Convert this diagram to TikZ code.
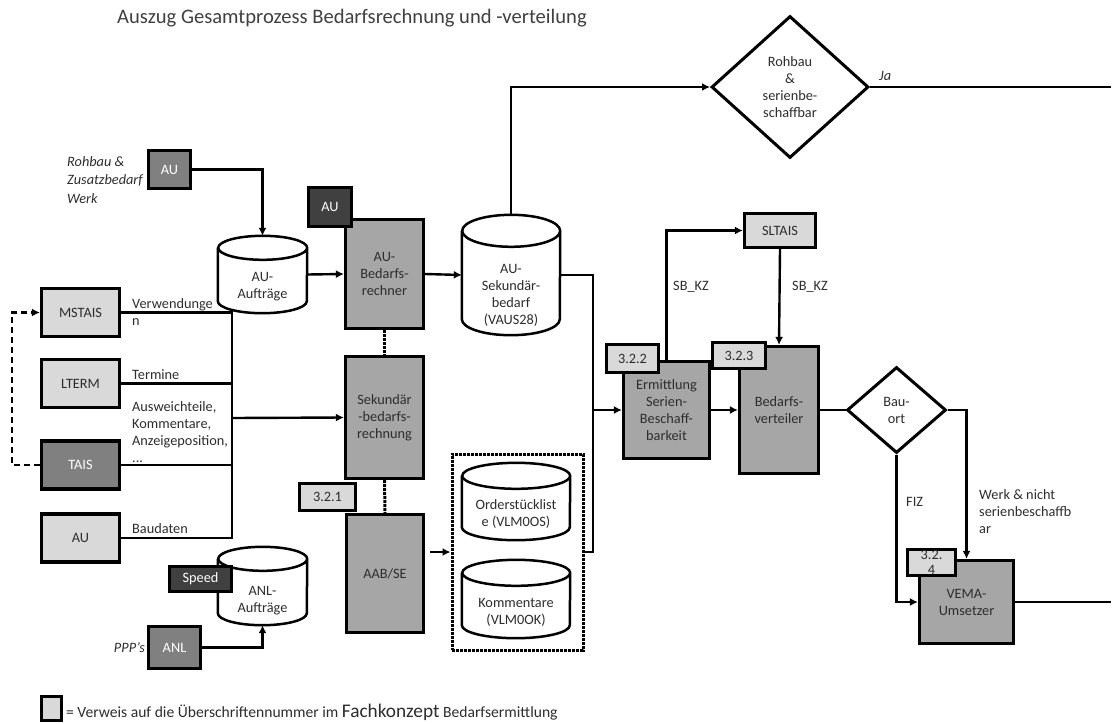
\documentclass[tikz,border=0pt]{standalone}
\usepackage{fontspec}
\setmainfont{Carlito}
\usetikzlibrary{shapes.geometric,arrows.meta,backgrounds}
\definecolor{lightgr}{RGB}{217,217,217}
\definecolor{procgr}{RGB}{166,166,166}
\definecolor{midgr}{RGB}{128,128,128}
\definecolor{darkgr}{RGB}{64,64,64}
\definecolor{txtgr}{RGB}{45,45,45}
\tikzset{
  box/.style={draw=black,line width=3.2pt,inner sep=1pt,align=center,text=txtgr},
  refbox/.style={box,fill=lightgr},
  procbox/.style={box,fill=procgr},
  srcbox/.style={box,fill=midgr,text=white},
  darkbox/.style={box,fill=darkgr,text=white},
  store/.style={rectangle,inner sep=0pt,align=center,text=txtgr},
  drumline/.style={draw=black,line width=2.5pt,fill=white},
  decide/.style={diamond,draw=black,line width=3pt,fill=white,
    align=center,inner sep=0pt,text=txtgr},
  flow/.style={line width=2.4pt},
  arr/.style={flow,-{Latex[length=8pt,width=8pt]}},
  lbl/.style={inner sep=0pt,align=left,text=txtgr}
}
%% data store outline: node, half width, cap radius
\newcommand\drum[3]{%
  \draw[drumline] ([yshift=-#3]#1.north west) -- ([yshift=#3]#1.south west)
  arc[start angle=180,end angle=360,x radius=#2,y radius=#3]
  -- ([yshift=-#3]#1.north east)
  arc[start angle=0,end angle=360,x radius=#2,y radius=#3];
}
\begin{document}
\begin{tikzpicture}[font=\fontsize{14.3}{17}\selectfont]
  \useasboundingbox (0pt,0pt) rectangle (1115pt,-723pt);

  %% title
  \node[lbl,anchor=west,text=darkgr,font=\fontsize{20.6}{24}\selectfont] (title)
  at (117pt,-18pt) {Auszug Gesamtprozess Bedarfsrechnung und -verteilung};

  %% sources left
  \node[srcbox,minimum width=42pt,minimum height=38pt] (auin)
  at (169.5pt,-169.5pt) {AU};
  \node[refbox,minimum width=78pt,minimum height=48pt] (mstais)
  at (80.5pt,-312.5pt) {MSTAIS};
  \node[refbox,minimum width=78pt,minimum height=48pt] (lterm)
  at (80.5pt,-383.5pt) {LTERM};
  \node[srcbox,minimum width=78pt,minimum height=48pt] (tais)
  at (80.5pt,-465pt) {TAIS};
  \node[refbox,minimum width=78pt,minimum height=48pt] (aubau)
  at (80.5pt,-538pt) {AU};
  \node[srcbox,minimum width=52pt,minimum height=42pt] (anl)
  at (174.5pt,-647.5pt) {ANL};

  %% data stores
  \node[store,minimum width=89pt,minimum height=77pt] (auauf)
  at (262.5pt,-274.5pt) {\\[16pt]AU-\\Aufträge};
  \node[store,minimum width=89pt,minimum height=78pt] (anlauf)
  at (262.5pt,-586pt) {\\[22pt]ANL-\\Aufträge};
  \node[store,minimum width=98pt,minimum height=120pt] (ausek)
  at (511pt,-275pt) {\\[32pt]AU-\\Sekundär-\\bedarf\\(VAUS28)};
  \node[store,minimum width=108pt,minimum height=77pt] (ordsl)
  at (516pt,-501.5pt) {\\[17pt]Orderstücklist\\e (VLM0OS)};
  \node[store,minimum width=108pt,minimum height=78pt] (komm)
  at (516pt,-599pt) {\\[19pt]Kommentare\\(VLM0OK)};
  \begin{scope}[on background layer]
    \drum{auauf}{44.5pt}{12pt}
    \drum{anlauf}{44.5pt}{12pt}
    \drum{ausek}{49pt}{16pt}
    \drum{ordsl}{54pt}{13pt}
    \drum{komm}{54pt}{13pt}
  \end{scope}
  \node[draw=black,line width=3pt,densely dotted,minimum width=131pt,
  minimum height=196pt] (frame) at (517.5pt,-552pt) {};

  \node[darkbox,minimum width=62pt,minimum height=25pt] (speed)
  at (200.5pt,-579pt) {Speed};

  %% processes
  \node[procbox,minimum width=78pt,minimum height=109pt] (aubr)
  at (384.5pt,-274pt) {AU-\\Bedarfs-\\rechner};
  \node[darkbox,minimum width=43pt,minimum height=39pt] (audark)
  at (330pt,-207pt) {AU};
  \node[procbox,minimum width=78pt,minimum height=122pt] (sek)
  at (384.5pt,-417.5pt) {Sekundär\\-bedarfs-\\rechnung};
  \node[procbox,minimum width=77pt,minimum height=118pt] (aab)
  at (385pt,-573.5pt) {AAB/SE};
  \node[refbox,minimum width=56pt,minimum height=27pt] (ref321)
  at (327.5pt,-497pt) {3.2.1};

  \node[procbox,minimum width=86pt,minimum height=97pt] (erm)
  at (666.5pt,-410pt) {Ermittlung\\Serien-\\Beschaff-\\barkeit};
  \node[refbox,minimum width=52pt,minimum height=28pt] (ref322)
  at (632.5pt,-358.5pt) {3.2.2};
  \node[procbox,minimum width=79pt,minimum height=127pt] (bv)
  at (779pt,-410pt) {Bedarfs-\\verteiler};
  \node[refbox,minimum width=53pt,minimum height=26pt] (ref323)
  at (739pt,-355.5pt) {3.2.3};
  \node[refbox,minimum width=71pt,minimum height=34pt] (sltais)
  at (780pt,-230.5pt) {SLTAIS};
  \node[procbox,minimum width=94pt,minimum height=83pt] (vema)
  at (966.5pt,-602pt) {VEMA-\\Umsetzer};
  \node[refbox,minimum width=48pt,minimum height=26pt,
  font=\fontsize{14.3}{15}\selectfont] (ref324)
  at (931.5pt,-562.5pt) {3.2.\\4};

  %% decisions
  \node[decide,minimum width=157pt,minimum height=142pt] (rohbau)
  at (790pt,-87pt) {Rohbau\\\&\\serienbe-\\schaffbar};
  \node[decide,minimum width=99pt,minimum height=86pt] (bauort)
  at (896.5pt,-410pt) {Bau-\\ort};

  %% helper points
  \coordinate (bus) at (232pt,-418pt);
  \coordinate (join) at (593pt,-410pt);
  \coordinate (jaend) at (1111pt,-87pt);
  \coordinate (vemaend) at (1111pt,-602pt);

  %% connectors left
  \draw[arr] (auin.east) -| (auauf.north);
  \draw[arr] (auauf.east) -- (aubr.west);
  \draw[flow] (mstais.east) -- (mstais.east -| bus) -- (aubau.east -| bus)
  -- (aubau.east);
  \draw[flow] (lterm.east) -- (lterm.east -| bus);
  \draw[flow] (tais.east) -- (tais.east -| bus);
  \draw[arr] (bus) -- (sek.west);
  \draw[arr,dash pattern=on 6pt off 4pt] (tais.west) -- ++(-28pt,0pt)
  |- (mstais.west);
  \draw[arr] (anl.east) -| (anlauf.south);

  %% connectors middle
  \draw[arr] (aubr.east) -- (ausek.west);
  \draw[line width=3pt,densely dotted] (aubr.south) -- (sek.north);
  \draw[line width=3pt,densely dotted] (sek.south) -- (aab.north);
  \draw[arr] ([xshift=5pt]frame.west -| aab.east) -- (frame.west);
  \draw[flow] (ausek.east) -| (join) |- (frame.east);
  \draw[arr] (join) -- (erm.west);
  \draw[arr] (ausek.north) |- (rohbau.west);

  %% connectors right
  \draw[flow] (rohbau.east) -- (jaend);
  \draw[arr] (erm.north) |- (sltais.west);
  \draw[arr] (sltais.south) -- (bv.north);
  \draw[arr] (erm.east) -- (bv.west);
  \draw[flow] (bv.east) -- (bauort.west);
  \draw[arr] (bauort.east) -| (vema.north);
  \draw[arr] (bauort.south) |- (vema.west);
  \draw[flow] (vema.east) -- (vemaend);

  %% labels
  \node[lbl,anchor=west,font=\fontsize{14.3}{18.5}\selectfont\itshape] (rohlbl)
  at (67pt,-180pt) {Rohbau \&\\Zusatzbedarf\\Werk};
  \node[lbl,anchor=east,font=\fontsize{14.3}{17}\selectfont\itshape] (ppplbl)
  at (145pt,-648pt) {PPP’s};
  \node[lbl,anchor=west] (verwlbl) at (132pt,-312pt) {Verwendunge\\n};
  \node[lbl,anchor=west] (termlbl) at (132pt,-375pt) {Termine};
  \node[lbl,anchor=west] (auswlbl) at (132pt,-432.5pt)
  {Ausweichteile,\\Kommentare,\\Anzeigeposition,\\...};
  \node[lbl,anchor=west] (baulbl) at (132pt,-529pt) {Baudaten};
  \node[lbl,anchor=west,font=\fontsize{14.3}{17}\selectfont\itshape] (jalbl)
  at (879pt,-76pt) {Ja};
  \node[lbl,anchor=west] (sblbl1) at (673pt,-287pt) {SB\_KZ};
  \node[lbl,anchor=west] (sblbl2) at (792pt,-287pt) {SB\_KZ};
  \node[lbl,anchor=west] (fizlbl) at (906pt,-502pt) {FIZ};
  \node[lbl,anchor=west] (werklbl) at (979pt,-512pt)
  {Werk \& nicht\\serienbeschaffb\\ar};

  %% legend
  \node[refbox,minimum width=20pt,minimum height=24pt] (legbox)
  at (51.5pt,-708.5pt) {};
  \node[lbl,anchor=west,font=\fontsize{15.6}{17}\selectfont] (legtxt)
  at (66pt,-712pt) {= Verweis auf die Überschriftennummer im
  {\fontsize{19.3}{21}\selectfont Fachkonzept} Bedarfsermittlung};

\end{tikzpicture}
\end{document}
